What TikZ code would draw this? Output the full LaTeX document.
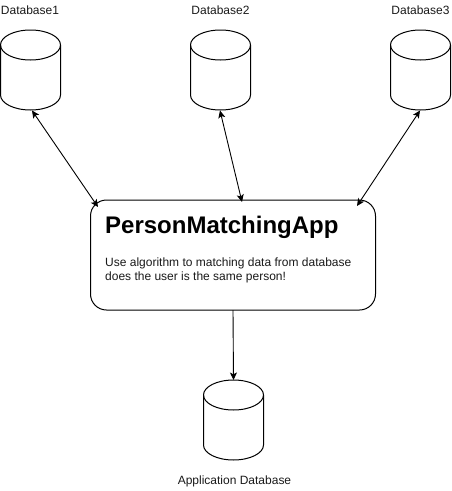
\documentclass[tikz,border=0pt]{standalone}
\usepackage{fontspec}
\setmainfont{Liberation Sans}
\usetikzlibrary{arrows.meta}
\tikzset{
  x=1pt,y=-1pt,
  linestyle/.style={draw=black,line width=1pt},
  dbnode/.style={minimum width=60pt,minimum height=80pt,inner sep=0pt,outer sep=0pt},
  lbl/.style={font=\fontsize{12pt}{14pt}\selectfont,text=black!90,inner sep=0pt,anchor=center},
  conn/.style={line width=0.9pt,-{Stealth[length=7.5pt,width=7pt,inset=1.8pt]}},
  biconn/.style={line width=0.9pt,{Stealth[length=7.5pt,width=7pt,inset=1.8pt]}-{Stealth[length=7.5pt,width=7pt,inset=1.8pt]}},
}
\newcommand{\cyl}[1]{%
  \draw[linestyle] (#1.north west) ++(0,15) arc[x radius=30pt,y radius=15pt,start angle=180,end angle=0]
    -- ++(0,50) arc[x radius=30pt,y radius=15pt,start angle=0,end angle=-180] -- cycle;
  \draw[linestyle] (#1.north west) ++(0,15) arc[x radius=30pt,y radius=15pt,start angle=180,end angle=360];
}
\begin{document}
\begin{tikzpicture}
\useasboundingbox (0,0) rectangle (451,491);
\node[dbnode] (db1) at (30.5,70) {};
\node[dbnode] (db2) at (220.5,70) {};
\node[dbnode] (db3) at (420.5,70) {};
\node[dbnode] (db4) at (233.5,420) {};
\cyl{db1}\cyl{db2}\cyl{db3}\cyl{db4}
\node[lbl] (l1) at (30,10.5) {Database1};
\node[lbl] (l2) at (220.5,10.5) {Database2};
\node[lbl] (l3) at (420.5,10.5) {Database3};
\node[lbl] (l4) at (234.5,481) {Application Database};
\node[draw=black,line width=1pt,rounded corners=16pt,minimum width=285pt,minimum height=110pt,inner sep=0pt,outer sep=0pt] (app) at (233,255) {};
\node[inner sep=0pt,anchor=base west,font=\fontsize{24pt}{28pt}\selectfont\bfseries] (title) at (105,233) {PersonMatchingApp};
\node[inner sep=0pt,anchor=base west,font=\fontsize{12pt}{14pt}\selectfont,text=black!90] (b1) at (105,266) {Use algorithm to matching data from database};
\node[inner sep=0pt,anchor=base west,font=\fontsize{12pt}{14pt}\selectfont,text=black!90] (b2) at (105,280) {does the user is the same person!};
\coordinate (c1) at (98,207);
\coordinate (c2) at (242,202);
\coordinate (c3) at (357,206);
\coordinate (s1) at (32,110.5);
\coordinate (s2) at (220,110.5);
\coordinate (s3) at (420,110.5);
\draw[biconn] (s1) -- (c1);
\draw[biconn] (s2) -- (c2);
\draw[biconn] (s3) -- (c3);
\draw[conn] (app.south) -- (db4.north);
\end{tikzpicture}
\end{document}
